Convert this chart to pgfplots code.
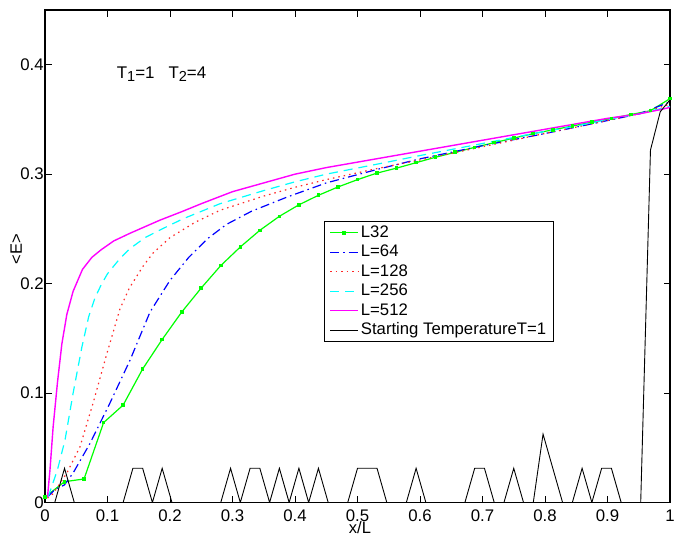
\documentclass[border=0pt]{standalone}
\usepackage{fontspec}
\setmainfont{Liberation Sans}
\usepackage{pgfplots}
\pgfplotsset{compat=1.18}
\definecolor{mgreen}{RGB}{0,255,0}
\definecolor{mblue}{RGB}{0,0,255}
\definecolor{mred}{RGB}{255,40,40}
\definecolor{mcyan}{RGB}{0,255,255}
\definecolor{mmag}{RGB}{255,0,255}
\begin{document}
\begin{tikzpicture}
\begin{axis}[
  scale only axis, width=625pt, height=492.5pt,
  xmin=0, xmax=1, ymin=0, ymax=0.45,
  xtick={0,0.1,0.2,0.3,0.4,0.5,0.6,0.7,0.8,0.9,1},
  xticklabels={0,0.1,0.2,0.3,0.4,0.5,0.6,0.7,0.8,0.9,1},
  ytick={0,0.1,0.2,0.3,0.4},
  yticklabels={0,0.1,0.2,0.3,0.4},
  tick label style={font=\fontsize{16.8}{19}\selectfont},
  xticklabel style={yshift=-3.7pt},
  yticklabel style={xshift=2.2pt},
  major tick length=6.5pt,
  tick style={line width=1pt, black},
  axis line style={line width=1.2pt},
  xlabel={x/L},
  xlabel style={at={(axis description cs:0.504,0)}, anchor=base, yshift=-31pt, font=\fontsize{16.5}{19}\selectfont},
  ylabel={<E>},
  ylabel style={at={(axis description cs:-0.037,0.515)}, anchor=base, font=\fontsize{16.5}{19}\selectfont},
  legend cell align=left,
  legend image code/.code={\draw[mark repeat=2,mark phase=2,#1] plot coordinates {(0pt,0pt) (14pt,0pt) (28pt,0pt)};},
  legend style={at={(axis description cs:0.4464,0.5716)}, anchor=north west,
    font=\fontsize{16.7}{19}\selectfont, draw=black, line width=1.1pt,
    inner xsep=5pt, inner ysep=1.5pt, row sep=0pt,
    nodes={inner sep=2pt, text height=12pt, text depth=3.5pt}},
]
\addplot[mgreen, line width=1.2pt, mark=square*, mark size=1.2pt] coordinates {
(0,0.005) (0.03125,0.019) (0.0625,0.0215) (0.09375,0.073) (0.125,0.089)
(0.15625,0.122) (0.1875,0.149) (0.21875,0.174) (0.25,0.196) (0.28125,0.2165)
(0.3125,0.2335) (0.34375,0.2487) (0.375,0.2615) (0.40625,0.272) (0.4375,0.2807)
(0.46875,0.2883) (0.5,0.295) (0.53125,0.301) (0.5625,0.3055) (0.59375,0.3105)
(0.625,0.3155) (0.65625,0.320) (0.6875,0.3245) (0.71875,0.3288) (0.75,0.333)
(0.78125,0.337) (0.8125,0.3405) (0.84375,0.344) (0.875,0.3475) (0.90625,0.351)
(0.9375,0.3545) (0.96875,0.358) (1.0,0.369)};
\addlegendentry{L32}
\addplot[mblue, line width=1.2pt, dash pattern=on 9pt off 4pt on 1.5pt off 4pt] coordinates {
(0.004,0.005) (0.016,0.012) (0.031,0.016) (0.045,0.027) (0.072,0.054)
(0.104,0.091) (0.136,0.130) (0.168,0.174) (0.2,0.203) (0.23,0.224)
(0.26,0.241) (0.29,0.254) (0.33,0.266) (0.387,0.279) (0.45,0.292)
(0.536,0.305) (0.6,0.314) (0.7,0.326) (0.79,0.336) (0.85,0.343)
(0.9,0.349) (0.95,0.355) (1.0,0.366)};
\addlegendentry{L=64}
\addplot[mred, line width=1.2pt, dash pattern=on 1.5pt off 4pt] coordinates {
(0.004,0.004) (0.013,0.008) (0.035,0.027) (0.056,0.051) (0.077,0.091)
(0.099,0.136) (0.12,0.177) (0.135,0.196) (0.157,0.216) (0.173,0.228)
(0.2,0.242) (0.24,0.256) (0.28,0.267) (0.35,0.280) (0.4,0.288)
(0.45,0.295) (0.53,0.305) (0.6,0.313) (0.7,0.325) (0.79,0.336)
(0.85,0.343) (0.9,0.349) (0.95,0.355) (1.0,0.364)};
\addlegendentry{L=128}
\addplot[mcyan, line width=1.2pt, dash pattern=on 9pt off 6pt] coordinates {
(0.005,0.005) (0.02,0.03) (0.032,0.057) (0.045,0.10) (0.059,0.142)
(0.07,0.170) (0.08,0.187) (0.09,0.199) (0.1,0.209) (0.12,0.223) (0.136,0.232)
(0.16,0.242) (0.184,0.249) (0.22,0.259) (0.28,0.273) (0.35,0.285) (0.4,0.293)
(0.45,0.300) (0.53,0.309) (0.6,0.317) (0.7,0.328) (0.79,0.338)
(0.85,0.344) (0.9,0.350) (0.95,0.355) (1.0,0.362)};
\addlegendentry{L=256}
\addplot[mmag, line width=1.4pt] coordinates {
(0.004,0.005) (0.008,0.03) (0.013,0.069) (0.02,0.11) (0.027,0.145)
(0.035,0.172) (0.045,0.193) (0.06,0.213) (0.075,0.224) (0.09,0.231)
(0.11,0.239) (0.136,0.246) (0.16,0.252) (0.184,0.258) (0.22,0.266)
(0.25,0.273) (0.3,0.284) (0.35,0.292) (0.4,0.300) (0.45,0.306)
(0.5,0.311) (0.55,0.316) (0.6,0.321) (0.65,0.326) (0.7,0.331)
(0.75,0.336) (0.8,0.341) (0.85,0.346) (0.9,0.351) (0.95,0.355)
(0.985,0.359) (1.0,0.361)};
\addlegendentry{L=512}
\addplot[black, line width=0.9pt] coordinates {
(0,0) (0.015625,0) (0.03125,0.03125) (0.046875,0) (0.125,0)
(0.140625,0.03125) (0.15625,0.03125) (0.171875,0) (0.1875,0.03125) (0.203125,0)
(0.28125,0) (0.296875,0.03125) (0.3125,0) (0.328125,0.03125) (0.34375,0.03125)
(0.359375,0) (0.375,0.03125) (0.390625,0) (0.40625,0.03125) (0.421875,0)
(0.4375,0.03125) (0.453125,0) (0.484375,0) (0.5,0.03125) (0.515625,0.03125)
(0.53125,0.03125) (0.546875,0) (0.578125,0) (0.59375,0.03125) (0.609375,0)
(0.671875,0) (0.6875,0.03125) (0.703125,0.03125) (0.71875,0) (0.734375,0)
(0.75,0.03125) (0.765625,0) (0.78125,0) (0.796875,0.0625) (0.8125,0.03125)
(0.828125,0) (0.84375,0) (0.859375,0.03125) (0.875,0) (0.890625,0.03125)
(0.90625,0.03125) (0.921875,0) (0.953125,0) (0.96875,0.322) (0.984375,0.357)
(1.0,0.368)};
\addlegendentry{Starting TemperatureT=1}
\node[anchor=base west, font=\fontsize{16.9}{19}\selectfont, inner sep=0pt] at (axis cs:0.1147,0.3875)
  {T\raisebox{-3.5pt}{\fontsize{14.5}{14}\selectfont 1}=1\hspace{14pt}T\raisebox{-3.5pt}{\fontsize{14.5}{14}\selectfont 2}=4};
\end{axis}
\pgfresetboundingbox
\path[use as bounding box] (-45pt,-33.5pt) rectangle (646pt,502.5pt);
\end{tikzpicture}
\end{document}
